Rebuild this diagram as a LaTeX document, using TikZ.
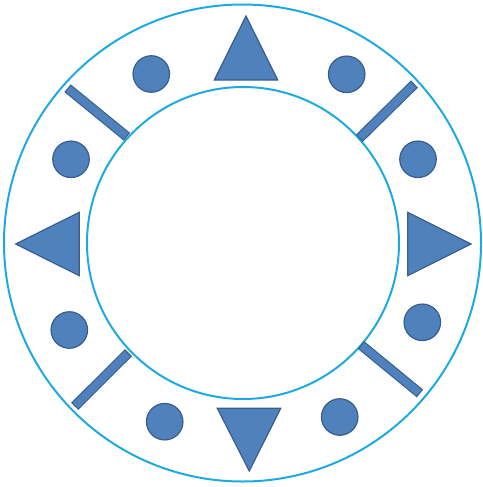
\documentclass[tikz,border=0pt]{standalone}
\usetikzlibrary{calc}
\definecolor{ringBlue}{RGB}{30,170,225}
\definecolor{markFill}{RGB}{79,129,189}
\definecolor{markEdge}{RGB}{56,93,138}
\tikzset{
  ring/.style={draw=ringBlue, line width=2pt},
  dot/.style={circle, fill=markFill, draw=markEdge, line width=1.2pt,
              minimum size=36.5pt, inner sep=0pt},
  spike/.style={fill=markFill, draw=markEdge, line width=1.2pt, line join=miter},
  baredge/.style={draw=markEdge, line width=10pt},
  barfill/.style={draw=markFill, line width=7.8pt, shorten <=1.1pt, shorten >=1.1pt},
}
\begin{document}
\begin{tikzpicture}[x=1pt, y=-1pt]
  \useasboundingbox (0,0) rectangle (482,487);
  % ================= rings =================
  \draw[ring] (242.5,243) circle[radius=238.5];
  \draw[ring] (243,243) circle[radius=156];
  % ================= triangles =================
  \draw[spike] (246,16) -- (277.7,80) -- (214.3,80) -- cycle;
  \draw[spike] (249.3,471) -- (217.3,408.3) -- (280.7,408.3) -- cycle;
  \draw[spike] (15.7,244) -- (79.3,212.3) -- (79.3,275.7) -- cycle;
  \draw[spike] (471,244) -- (407.7,212.3) -- (407.7,275.7) -- cycle;
  % ================= dots =================
  \node[dot] (dotTL) at (151.3,74) {};
  \node[dot] (dotTR) at (346.7,74.3) {};
  \node[dot] (dotLU) at (71,159.3) {};
  \node[dot] (dotRU) at (418,159.3) {};
  \node[dot] (dotLL) at (69.3,330) {};
  \node[dot] (dotRL) at (422.3,322.3) {};
  \node[dot] (dotBL) at (164.7,421.7) {};
  \node[dot] (dotBR) at (339.7,417) {};
  % ================= bars =================
  \foreach \ax/\ay/\bx/\by in {67.5/88.2/127/136.8, 414.5/84/359.3/138.3,
                               74.7/406.3/128.5/352.7, 420/393.5/361/345} {
    \draw[baredge] (\ax,\ay) -- (\bx,\by);
    \draw[barfill] (\ax,\ay) -- (\bx,\by);
  }
\end{tikzpicture}
\end{document}
